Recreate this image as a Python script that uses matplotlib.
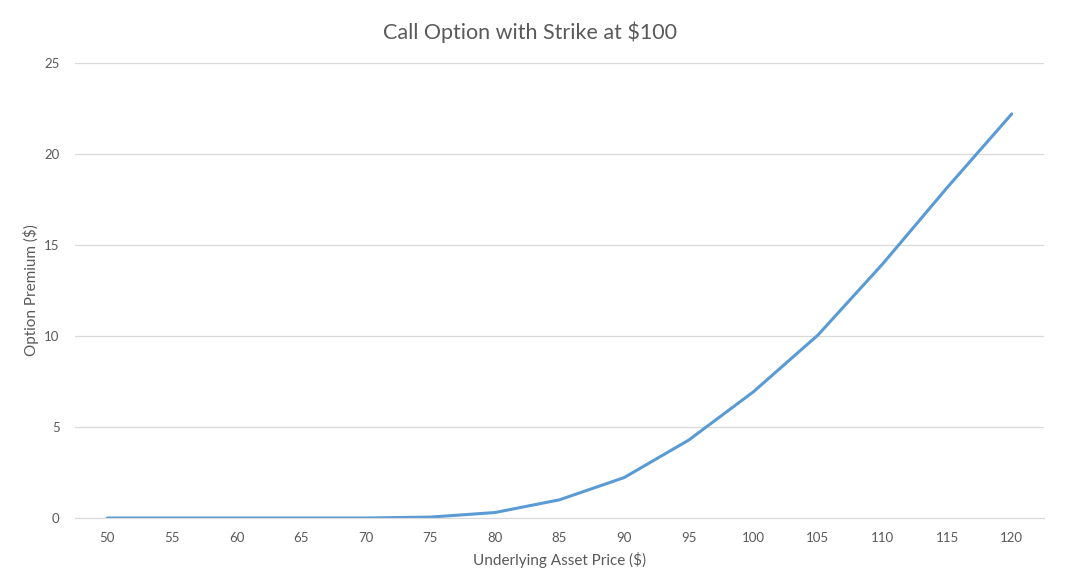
import matplotlib
matplotlib.use('Agg')
import matplotlib.pyplot as plt

# underlying asset price categories and option premium values
prices = [50, 55, 60, 65, 70, 75, 80, 85, 90, 95, 100, 105, 110, 115, 120]
premium = [0.0, 0.0, 0.0, 0.0, 0.0, 0.05, 0.3, 1.0, 2.22, 4.28, 6.93, 10.05, 13.95, 18.15, 22.2]
y_ticks = [0, 5, 10, 15, 20, 25]

plt.rcParams['font.family'] = ['Lato', 'DejaVu Sans']

fig = plt.figure(figsize=(10.79, 5.8), dpi=100)
ax = fig.add_axes([75 / 1079, 1 - 518 / 580, (1044 - 75) / 1079, (518 - 63) / 580])

idx = list(range(len(prices)))
ax.plot(idx, premium, color='#5B9BD5', linewidth=2.2, solid_capstyle='round')

ax.set_xlim(-0.5, len(prices) - 0.5)
ax.set_ylim(0, 25)
ax.set_xticks(idx)
ax.set_xticklabels([str(p) for p in prices])
ax.set_yticks(y_ticks)

ax.grid(True, axis='y', color='#D9D9D9', linewidth=0.9)
ax.set_axisbelow(True)
for s in ['top', 'right', 'left']:
    ax.spines[s].set_visible(False)
ax.spines['bottom'].set_color('#D9D9D9')
ax.tick_params(axis='both', length=0, colors='#595959', labelsize=9.5)
ax.tick_params(axis='x', pad=10)
ax.tick_params(axis='y', pad=11)

# title centred on the figure, like the excel chart
fig.text(530 / 1079, 1 - 32 / 580, 'Call Option with Strike at $100', color='#595959',
         fontsize=15.5, ha='center', va='center')
ax.set_xlabel('Underlying Asset Price ($)', color='#595959', fontsize=11, labelpad=6)
ax.set_ylabel('Option Premium ($)', color='#595959', fontsize=11)
ax.yaxis.set_label_coords((39 - 75) / 969, 0.5)

fig.savefig('out.png', dpi=100)
